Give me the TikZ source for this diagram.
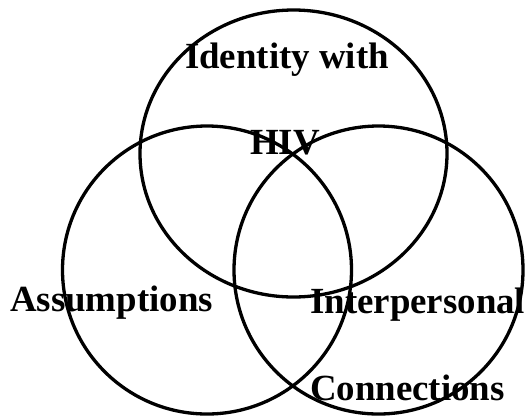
\documentclass[tikz,border=0pt]{standalone}
\usepackage{fontspec}
\setmainfont{Liberation Serif}
\tikzset{
  ring/.style={line width=3.3bp, black},
  lbl/.style={inner sep=0pt, font=\fontsize{37}{44}\selectfont\bfseries}
}
\begin{document}
\begin{tikzpicture}[x=1bp,y=-1bp]
\useasboundingbox (0,0) rectangle (525,415);
% top ring
\draw[ring] (293.5,153.5) ellipse [x radius=153.5, y radius=143.5];
% left ring
\draw[ring] (207,270) ellipse [x radius=144.5, y radius=144];
% right ring
\draw[ring] (378.5,270) ellipse [x radius=144.5, y radius=144];

%labels
\node[lbl, anchor=base] (identity) at (287,68.5) {Identity with};
\node[lbl, anchor=base] (hiv) at (285,154.5) {HIV};
\node[lbl, anchor=base west] (assump) at (10,311) {Assumptions};
\node[lbl, anchor=base west] (interp) at (310,313.5) {Interpersonal};
\node[lbl, anchor=base west] (connect) at (310,400.5) {Connections};
\end{tikzpicture}
\end{document}
